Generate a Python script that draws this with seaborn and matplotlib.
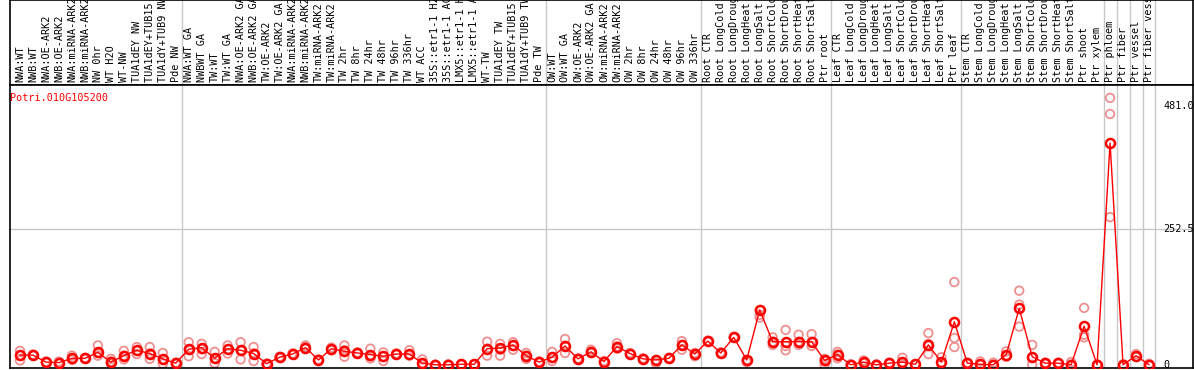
import numpy as np
import matplotlib
matplotlib.use("Agg")
import matplotlib.pyplot as plt
import seaborn as sns
import pandas as pd

# sample names (columns of the expression browser)
labels = [
    "NWA:WT", "NWB:WT", "NWA:OE-ARK2", "NWB:OE-ARK2", "NWA:miRNA-ARK2", "NWB:miRNA-ARK2",
    "NW 0hr", "WT H2O", "WT-NW", "TUA1dEY NW", "TUA1dEY+TUB15 NW", "TUA1dY+TUB9 NW", "Pde NW",
    "NWA:WT GA", "NWBWT GA", "TW:WT", "TW:WT GA", "NWA:OE-ARK2 GA", "NWB:OE-ARK2 GA",
    "TW:OE-ARK2", "TW:OE-ARK2 GA", "NWA:miRNA-ARK2", "NWB:miRNA-ARK2", "TW:miRNA-ARK2",
    "TW:miRNA-ARK2", "TW 2hr", "TW 8hr", "TW 24hr", "TW 48hr", "TW 96hr", "TW 336hr", "WT ACC",
    "35S::etr1-1 H2O", "35S::etr1-1 ACC", "LMX5::etr1-1 H2O", "LMX5::etr1-1 ACC", "WT-TW",
    "TUA1dEY TW", "TUA1dEY+TUB15 TW", "TUA1dY+TUB9 TW", "Pde TW",
    "OW:WT", "OW:WT GA", "OW:OE-ARK2", "OW:OE-ARK2 GA", "OW:miRNA-ARK2", "OW:miRNA-ARK2",
    "OW 2hr", "OW 8hr", "OW 24hr", "OW 48hr", "OW 96hr", "OW 336hr",
    "Root CTR", "Root LongCold", "Root LongDrought", "Root LongHeat", "Root LongSalt",
    "Root ShortCold", "Root ShortDrought", "Root ShortHeat", "Root ShortSalt", "Ptr root",
    "Leaf CTR", "Leaf LongCold", "Leaf LongDrought", "Leaf LongHeat", "Leaf LongSalt",
    "Leaf ShortCold", "Leaf ShortDrought", "Leaf ShortHeat", "Leaf ShortSalt", "Ptr leaf",
    "Stem CTR", "Stem LongCold", "Stem LongDrought", "Stem LongHeat", "Stem LongSalt",
    "Stem ShortCold", "Stem ShortDrought", "Stem ShortHeat", "Stem ShortSalt", "Ptr shoot",
    "Ptr xylem", "Ptr phloem", "Ptr fiber", "Ptr vessel", "Ptr fiber vessel",
]

mean_vals = [
    18, 18, 5, 4, 12, 12, 23, 5, 17, 27, 21, 11, 3,
    29, 32, 12, 30, 27, 21, 2, 14, 20, 32, 9, 30, 25, 22, 19, 16, 20, 20, 3, 0, 0, 1, 1,
    30, 31, 37, 17, 5,
    14, 35, 11, 24, 6, 34, 21, 11, 9, 12, 37, 20,
    44, 22, 51, 9, 102, 43, 43, 43, 43, 8,
    19, 0, 5, 0, 3, 5, 1, 37, 5, 80,
    3, 1, 0, 19, 105, 15, 3, 3, 0, 72, 0,
    413, 0, 17, 0,
]

rep1 = [
    26, 19, 5, 6, 17, 13, 36, 11, 26, 33, 33, 22, 4,
    42, 39, 24, 36, 42, 33, 2, 15, 21, 36, 10, 32, 36, 23, 30, 23, 21, 27, 10, 0, 1, 1, 1,
    43, 39, 42, 22, 6,
    24, 48, 12, 28, 7, 40, 22, 12, 9, 13, 44, 22,
    45, 23, 52, 9, 102, 51, 65, 56, 57, 11,
    24, 1, 8, 1, 4, 13, 1, 59, 14, 154,
    4, 6, 4, 25, 138, 37, 4, 4, 5, 106, 1,
    497, 1, 20, 2,
]
rep2 = [
    17, 17, 4, 3, 12, 12, 22, 6, 17, 26, 21, 10, 3,
    29, 29, 12, 29, 27, 21, 2, 14, 20, 33, 9, 30, 27, 22, 18, 15, 20, 18, 1, 0, 0, 1, 1,
    30, 28, 35, 17, 5,
    14, 35, 11, 24, 6, 34, 21, 11, 8, 12, 37, 20,
    44, 22, 51, 7, 93, 43, 35, 43, 43, 6,
    19, 0, 3, 0, 3, 5, 1, 39, 3, 50,
    3, 1, 0, 15, 112, 14, 3, 3, 0, 56, 0,
    467, 0, 15, 0,
]
rep3 = [
    8, 18, 6, 3, 9, 11, 17, 2, 10, 20, 11, 2, 2,
    16, 20, 3, 21, 10, 7, 1, 13, 19, 30, 8, 27, 15, 21, 12, 7, 19, 17, 0, 0, 0, 0, 0,
    17, 17, 28, 11, 4,
    7, 22, 10, 22, 5, 30, 20, 10, 3, 11, 28, 16,
    43, 21, 50, 5, 88, 37, 27, 37, 35, 0,
    12, 0, 3, 0, 2, 1, 0, 20, 1, 33,
    2, 0, 0, 15, 71, 0, 2, 2, 0, 51, 0,
    275, 0, 15, 0,
]

# group separators (between sample columns)
group_breaks = [12.5, 40.5, 52.5, 62.5, 72.5, 83.5, 84.5, 85.5, 86.5, 87.5]
ytick_vals = [481.0, 252.5, 0]
ytick_text = ["481.0", "252.5", "0"]
gene_id = "Potri.010G105200"

sns.set_style("white")
plt.rcParams["font.family"] = ["DejaVu Sans Mono", "DejaVu Sans"]

n = len(labels)
x = np.arange(n)
df_mean = pd.DataFrame({"x": x, "value": mean_vals})
df_rep = pd.DataFrame({
    "x": np.concatenate([x, x, x]),
    "value": np.concatenate([rep1, rep2, rep3]),
})

W, H = 1194, 370
fig = plt.figure(figsize=(W / 100, H / 100), dpi=100)
left_px, right_px = 10, 1193
top_line = 85
bottom_px = 368
ax_top = fig.add_axes([left_px / W, (H - top_line) / H, (right_px - left_px) / W, top_line / H - 0.001])
ax = fig.add_axes([left_px / W, (H - bottom_px) / H, (right_px - left_px) / W,
                   (bottom_px - top_line) / H], sharex=ax_top)

step = (1149 - 20) / (n - 1)
xlim = (-(20 - left_px) / step, (n - 1) + (right_px - 1149) / step)

# replicate points
sns.scatterplot(data=df_rep, x="x", y="value", ax=ax, s=38, marker="o",
                facecolors="none", edgecolor="#ee9090", linewidth=1.3, zorder=2, legend=False)
# mean line
sns.lineplot(data=df_mean, x="x", y="value", ax=ax, color="red", lw=1.0,
             marker="o", markersize=6.5, markerfacecolor="none", markeredgecolor="red",
             markeredgewidth=1.8, zorder=3)

ax.set_xlim(*xlim)
ax.set_ylim(-6, 521)
ax.axhline(252.5, color="#c8c8c8", lw=1, zorder=0)
for b in group_breaks:
    ax.axvline(b, color="#c8c8c8", lw=1, zorder=0)
    ax_top.axvline(b, color="#c8c8c8", lw=1, zorder=0)

ax.set_xlabel("")
ax.set_ylabel("")
ax.set_xticks([])
ax.set_yticks([])
for v, t in zip(ytick_vals, ytick_text):
    ax.text(88.1, v, t, fontsize=7.3, va="center", ha="left", color="black")
ax.text(0.0, 0.955, gene_id, transform=ax.transAxes, color="red", fontsize=7.3,
        va="center", ha="left")

ax_top.set_ylim(0, 1)
ax_top.set_xticks([])
ax_top.set_yticks([])
for i, lab in enumerate(labels):
    ax_top.text(i, 0.04, lab, rotation=90, ha="center", va="bottom", fontsize=7.3,
                color="black", clip_on=True)

for a in (ax, ax_top):
    for s in a.spines.values():
        s.set_color("black")
        s.set_linewidth(1.2)

fig.savefig("out.png", dpi=100)
